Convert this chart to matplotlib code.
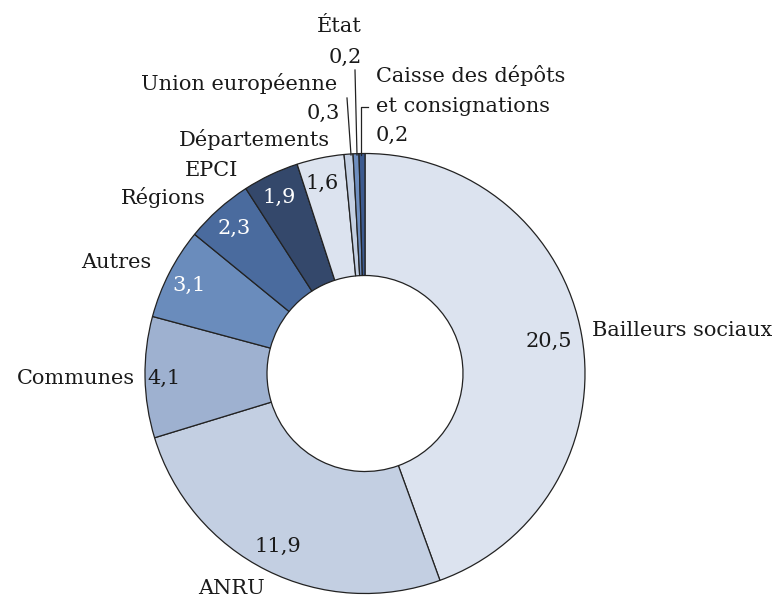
import matplotlib.pyplot as plt

# data
labels = ['Bailleurs sociaux', 'ANRU', 'Communes', 'Autres', 'Régions', 'EPCI',
          'Départements', 'Union européenne', 'État',
          'Caisse des dépôts\net consignations']
values = [20.5, 11.9, 4.1, 3.1, 2.3, 1.9, 1.6, 0.3, 0.2, 0.2]
value_txt = ['20,5', '11,9', '4,1', '3,1', '2,3', '1,9', '1,6', '0,3', '0,2', '0,2']
colors = ['#dce3ef', '#c3cfe2', '#9eb1d0', '#6a8cbc', '#4a6b9e', '#34486b',
          '#dce3ef', '#c3cfe2', '#6f8fc0', '#3c5a8f']
val_colors = ['#1a1a1a', '#1a1a1a', '#1a1a1a', 'white', 'white', 'white',
              '#1a1a1a', '#1a1a1a', '#1a1a1a', '#1a1a1a']

# label positions in pixels (x, y from top)
val_pos = [(549, 341), (278, 546), (164, 378), (189, 285), (234, 228),
           (279, 197), (322, 183), (323, 113), (345, 57), (392, 135)]
lab_pos = [(592, 331, 'left'), (232, 589, 'center'), (135, 378, 'right'),
           (116, 262, 'center'), (163, 198, 'center'), (212, 170, 'center'),
           (254, 140, 'center'), (239, 84, 'center'), (339, 27, 'center'),
           (376, 76, 'left')]

W, H = 775, 600
fig = plt.figure(figsize=(7.75, 6), dpi=100)
ax = fig.add_axes([0, 0, 1, 1])

font = 'DejaVu Serif'
fs = 15

ax.pie(values, colors=colors, startangle=90, counterclock=False,
       center=(365, H - 373.5), radius=220, frame=True,
       wedgeprops=dict(width=122, edgecolor='#222222', linewidth=0.9))
ax.set_xlim(0, W)
ax.set_ylim(0, H)
ax.axis('off')

for i in range(len(values)):
    x, y = val_pos[i]
    ax.text(x, H - y, value_txt[i], ha='center', va='center', fontsize=fs,
            family=font, color=val_colors[i])
    lx, ly, ha = lab_pos[i]
    for j, line in enumerate(labels[i].split('\n')):
        ax.text(lx, H - ly - 30 * j, line, ha=ha, va='center', fontsize=fs,
                family=font, color='#1a1a1a')

# leader lines
ax.plot([347, 351], [H - 98, H - 155], color='#222222', lw=0.9)
ax.plot([355, 357], [H - 70, H - 155], color='#222222', lw=0.9)
ax.plot([361, 361, 368], [H - 155, H - 107, H - 107], color='#222222', lw=0.9)

fig.savefig('out.png', dpi=100)
